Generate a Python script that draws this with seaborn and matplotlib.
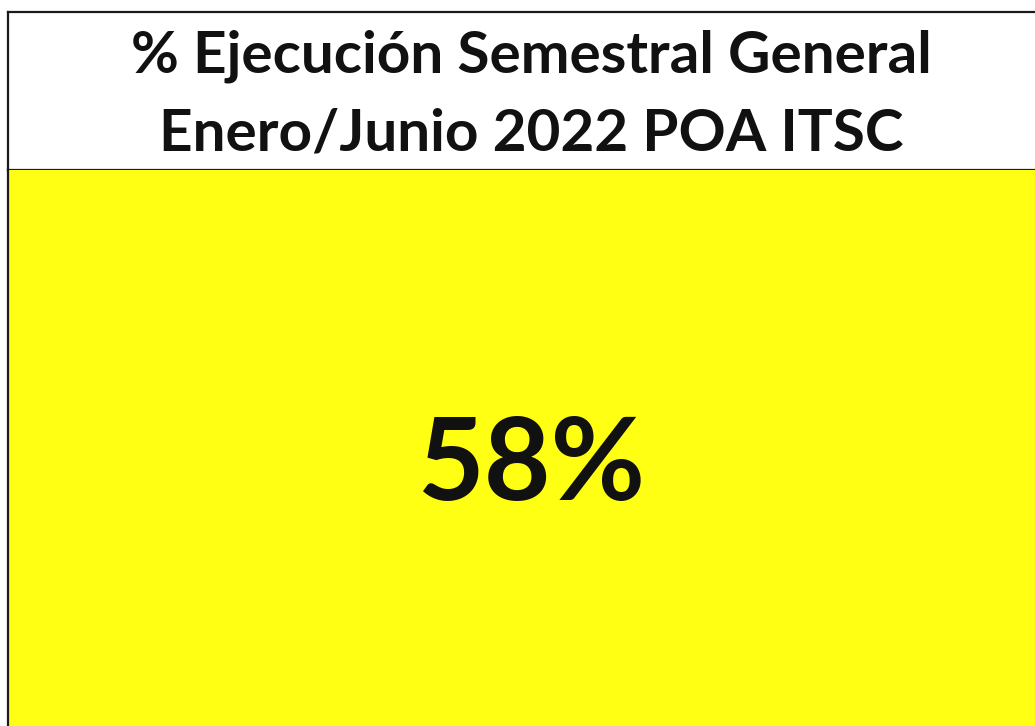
import pandas as pd
import matplotlib
matplotlib.use("Agg")
import matplotlib.pyplot as plt
from matplotlib.colors import ListedColormap
import seaborn as sns

# data
title_lines = ["% Ejecución Semestral General", "Enero/Junio 2022 POA ITSC"]
indicator = ["Ejecución"]
values = [58]

sns.set_theme(style="white")
plt.rcParams['font.family'] = ['Lato', 'DejaVu Sans']

df = pd.DataFrame([values], index=indicator, columns=["General"])

fig = plt.figure(figsize=(10.35, 7.26), dpi=100)
fig.patch.set_facecolor("white")

# header cell
W, H = 1035, 726
ax_head = fig.add_axes([8 / W, 1 - 170 / H, 1.0, (170 - 12) / H])
ax_head.set_xticks([])
ax_head.set_yticks([])
for side in ["left", "top", "bottom"]:
    ax_head.spines[side].set_color("#1a1a1a")
    ax_head.spines[side].set_linewidth(1.6)
ax_head.spines["right"].set_visible(False)
ax_head.text((527 - 8) / 1027, 0.72, title_lines[0], transform=ax_head.transAxes,
             ha="center", va="center", fontsize=42, fontweight="bold", color="#111111")
ax_head.text((527 - 8) / 1027, 0.225, title_lines[1], transform=ax_head.transAxes,
             ha="center", va="center", fontsize=42, fontweight="bold", color="#111111")

# value cell (heatmap y axis is inverted: 0 = top)
ax = fig.add_axes([8 / W, 0, 1.0, 1 - 170 / H])
sns.heatmap(df, ax=ax, cmap=ListedColormap(["#FFFF14"]), cbar=False,
            annot=True, fmt="d", annot_kws={"fontsize": 83, "fontweight": "bold",
                                            "color": "#111111"},
            xticklabels=False, yticklabels=False)
for t in ax.texts:
    t.set_text(t.get_text() + "%")
    t.set_position(((527 - 8) / 1027, 0.535))
ax.spines["left"].set_visible(True)
ax.spines["left"].set_color("#1a1a1a")
ax.spines["left"].set_linewidth(1.6)

fig.savefig("out.png", dpi=100)
